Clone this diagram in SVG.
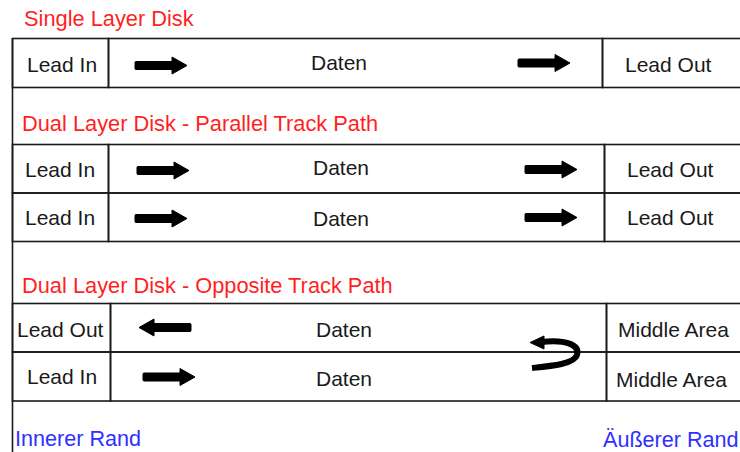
<svg xmlns="http://www.w3.org/2000/svg" width="740" height="452" viewBox="0 0 740 452">
<style>
.bg{fill:#fff}
.cell{fill:none;stroke:#1a1a1a;stroke-width:1.6}
.t{font-family:"Liberation Sans",Arial,sans-serif;font-size:21px;fill:#1a1a1a}
.red{font-family:"Liberation Sans",Arial,sans-serif;font-size:21.8px;fill:#ff1f1f}
.blue{font-family:"Liberation Sans",Arial,sans-serif;font-size:21.6px;fill:#2f2fff}
.arr{fill:#000;stroke:#000;stroke-width:1;stroke-linejoin:round}
.uturn{fill:none;stroke:#000;stroke-width:6;stroke-linecap:butt}
</style>
<defs>
<path id="arr" class="arr" d="M1,-4 H37 V-8.5 L52,0 L37,8.5 V4 H1 Q0,4 0,3 V-3 Q0,-4 1,-4 Z"/>
</defs>
<rect class="bg" x="0" y="0" width="740" height="452"/>

<text class="red" x="24" y="26">Single Layer Disk</text>
<text class="red" x="22" y="131">Dual Layer Disk - Parallel Track Path</text>
<text class="red" x="22" y="293">Dual Layer Disk - Opposite Track Path</text>

<line class="cell" x1="12.5" y1="38" x2="12.5" y2="452"/>

<g id="s1-leadin"><rect class="cell" x="12.5" y="38.5" width="96" height="49"/><text class="t" x="27" y="72">Lead In</text></g>
<g id="s1-daten"><rect class="cell" x="108.5" y="38.5" width="494" height="49"/><text class="t" x="311" y="69.5">Daten</text></g>
<g id="s1-leadout"><rect class="cell" x="602.5" y="38.5" width="140" height="49"/><text class="t" x="625" y="72">Lead Out</text></g>

<g id="s2a-leadin"><rect class="cell" x="12.5" y="144.5" width="96" height="48.5"/><text class="t" x="25" y="177">Lead In</text></g>
<g id="s2a-daten"><rect class="cell" x="108.5" y="144.5" width="496" height="48.5"/><text class="t" x="313" y="174.5">Daten</text></g>
<g id="s2a-leadout"><rect class="cell" x="604.5" y="144.5" width="140" height="48.5"/><text class="t" x="627" y="177">Lead Out</text></g>

<g id="s2b-leadin"><rect class="cell" x="12.5" y="193" width="96" height="48.5"/><text class="t" x="25" y="225">Lead In</text></g>
<g id="s2b-daten"><rect class="cell" x="108.5" y="193" width="496" height="48.5"/><text class="t" x="313" y="225.5">Daten</text></g>
<g id="s2b-leadout"><rect class="cell" x="604.5" y="193" width="140" height="48.5"/><text class="t" x="627" y="225">Lead Out</text></g>

<g id="s3a-leadout"><rect class="cell" x="12.5" y="303.5" width="98" height="48.5"/><text class="t" x="17" y="337">Lead Out</text></g>
<g id="s3a-daten"><rect class="cell" x="110.5" y="303.5" width="496" height="48.5"/><text class="t" x="316" y="336.5">Daten</text></g>
<g id="s3a-middle"><rect class="cell" x="606.5" y="303.5" width="140" height="48.5"/><text class="t" x="618" y="337">Middle Area</text></g>

<g id="s3b-leadin"><rect class="cell" x="12.5" y="352" width="98" height="49"/><text class="t" x="27" y="384">Lead In</text></g>
<g id="s3b-daten"><rect class="cell" x="110.5" y="352" width="496" height="49"/><text class="t" x="316" y="385.5">Daten</text></g>
<g id="s3b-middle"><rect class="cell" x="606.5" y="352" width="140" height="49"/><text class="t" x="616" y="387">Middle Area</text></g>

<g id="connectors">
<use href="#arr" transform="translate(135,65.5)"/>
<use href="#arr" transform="translate(518,63)"/>
<use href="#arr" transform="translate(137,170.5)"/>
<use href="#arr" transform="translate(525,169.5)"/>
<use href="#arr" transform="translate(135,218.5)"/>
<use href="#arr" transform="translate(525,217.5)"/>
<use href="#arr" transform="translate(191,327.5) scale(-1,1)"/>
<use href="#arr" transform="translate(143,377)"/>
<path class="uturn" d="M541,342 C566,339 580,345 577,355 C574,364 552,366 532,368"/>
<path class="arr" d="M530,342.5 L544,336 L544,349 Z"/>
</g>

<text class="blue" x="15" y="446">Innerer Rand</text>
<text class="blue" x="603" y="447">Äußerer Rand</text>
</svg>
